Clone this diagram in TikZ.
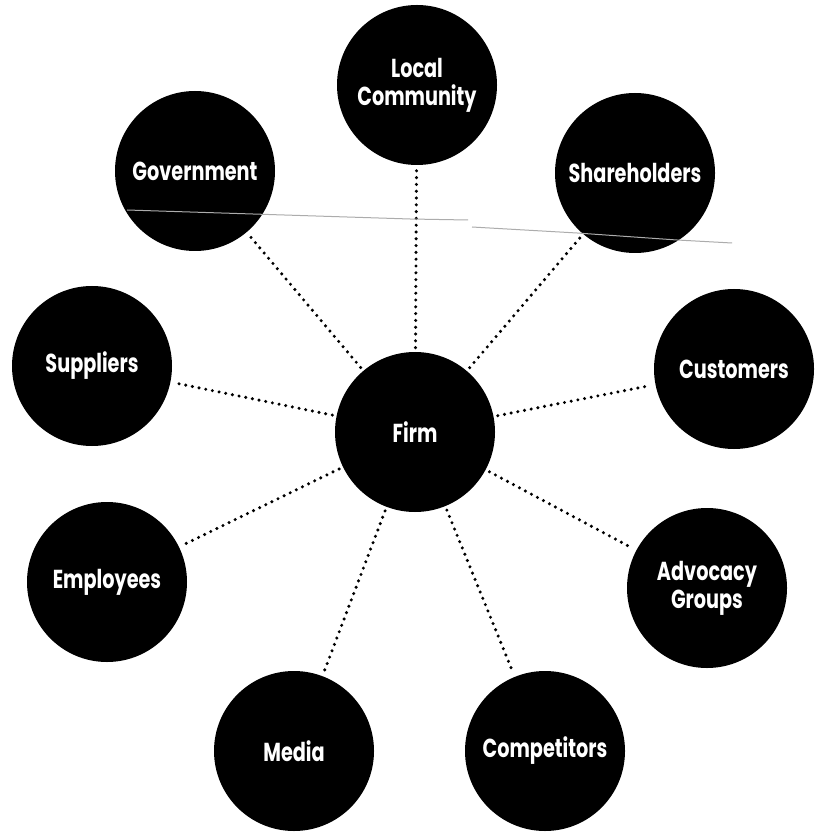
\documentclass[tikz,border=0pt]{standalone}
\usepackage{fontspec}
\setmainfont{Poppins}[FakeStretch=0.74]
\begin{document}
\begin{tikzpicture}[x=0.5pt,y=-0.5pt,
  party/.style={circle, fill=black, minimum size=80pt, inner sep=0pt,
    text=white, align=center, font=\fontsize{13}{14}\selectfont\bfseries},
  tie/.style={line width=1.7pt, dash pattern=on 0pt off 3.4pt,
    line cap=round, shorten >=2pt, shorten <=2pt},
  scratch/.style={gray!65, line width=0.5pt}]
\useasboundingbox (0,0) rectangle (820,833);
\fill[white] (0,0) rectangle (820,833);

% the firm in the middle
\node[party] (firm) at (415,432) {Firm};

% the stakeholders around it
\node[party] (community)   at (417,85)  {Local\\Community};
\node[party] (government)  at (195,171) {Government};
\node[party] (shareholders) at (635,173) {Shareholders};
\node[party] (suppliers)   at (92,366)  {Suppliers};
\node[party] (customers)   at (734,369) {Customers};
\node[party] (employees)   at (107,582) {Employees};
\node[party] (advocacy)    at (707,588) {Advocacy\\Groups};
\node[party] (media)       at (294,751) {Media};
\node[party] (competitors) at (545,751) {Competitors};

% dotted ties from the firm to each stakeholder
\foreach \s in {community,government,shareholders,suppliers,customers,
                employees,advocacy,media,competitors}
  \draw[tie] (firm) -- (\s);

% thin pencil stroke across the upper row
\draw[scratch] (127,210) -- (410,219) -- (468,220);
\draw[scratch] (472,227) -- (577,233) -- (677,240) -- (732,243);
\end{tikzpicture}
\end{document}
